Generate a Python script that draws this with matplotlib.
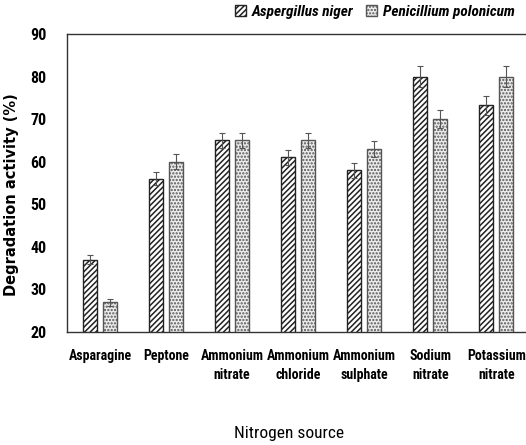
import matplotlib.pyplot as plt
import numpy as np

plt.rcParams['hatch.linewidth'] = 1.1

sources = ['Asparagine', 'Peptone', 'Ammonium\nnitrate', 'Ammonium\nchloride',
           'Ammonium\nsulphate', 'Sodium\nnitrate', 'Potassium\nnitrate']
niger = [37, 56, 65, 61, 58, 80, 73.2]
niger_err = [1.0, 1.5, 1.8, 1.7, 1.8, 2.4, 2.2]
polonicum = [27, 60, 65, 65, 63, 70, 80]
polonicum_err = [0.8, 1.7, 1.8, 1.8, 1.8, 2.1, 2.4]

x = np.arange(len(sources))
width = 0.21
off = 0.15

narrow = ['Roboto Condensed', 'DejaVu Sans']

fig = plt.figure(figsize=(5.26, 4.45), dpi=100)
ax = fig.add_axes([0.1274, 0.254, 0.8726, 0.6697])

ax.bar(x - off, niger, width, color='white', edgecolor='#222222',
       hatch='//////', linewidth=1.0, label='Aspergillus niger')
ax.bar(x + off, polonicum, width, color='#eeeeee', edgecolor='#555555',
       hatch='.....', linewidth=1.0, label='Penicillium polonicum')
ax.errorbar(x - off, niger, yerr=niger_err, fmt='none', ecolor='#555555',
            elinewidth=0.8, capsize=2.5, capthick=0.8)
ax.errorbar(x + off, polonicum, yerr=polonicum_err, fmt='none', ecolor='#555555',
            elinewidth=0.8, capsize=2.5, capthick=0.8)

ax.set_ylim(20, 90)
ax.set_xlim(-0.5, 6.45)
ax.set_yticks(range(20, 91, 10))
ax.set_xticks(x)
ax.set_xticklabels(sources, family=narrow, fontstretch='condensed',
                   fontweight='bold', fontsize=10, linespacing=1.5)
for t in ax.get_yticklabels():
    t.set_family(narrow)
    t.set_fontstretch('condensed')
    t.set_fontweight('bold')
    t.set_fontsize(11.5)
ax.tick_params(axis='both', length=0)
ax.tick_params(axis='y', pad=15)
ax.tick_params(axis='x', pad=12)

ax.spines['right'].set_visible(False)
for s in ['left', 'top', 'bottom']:
    ax.spines[s].set_color('#333333')
    ax.spines[s].set_linewidth(1.0)

ax.set_ylabel('Degradation activity (%)', fontweight='bold', fontsize=10.5)
ax.yaxis.set_label_coords(-0.105, 0.46)
fig.text(0.55, 0.01, 'Nitrogen source', family=narrow, fontstretch='condensed',
         fontsize=12.5, ha='center', va='bottom')

ax.legend(loc='lower right', bbox_to_anchor=(0.995, 1.02), ncol=2, frameon=False,
          prop={'family': narrow, 'stretch': 'condensed', 'weight': 'bold',
                'style': 'italic', 'size': 11},
          handlelength=0.7, handleheight=0.7, handletextpad=0.4, columnspacing=0.8,
          borderaxespad=0.2)

plt.savefig('out.png', dpi=100)
